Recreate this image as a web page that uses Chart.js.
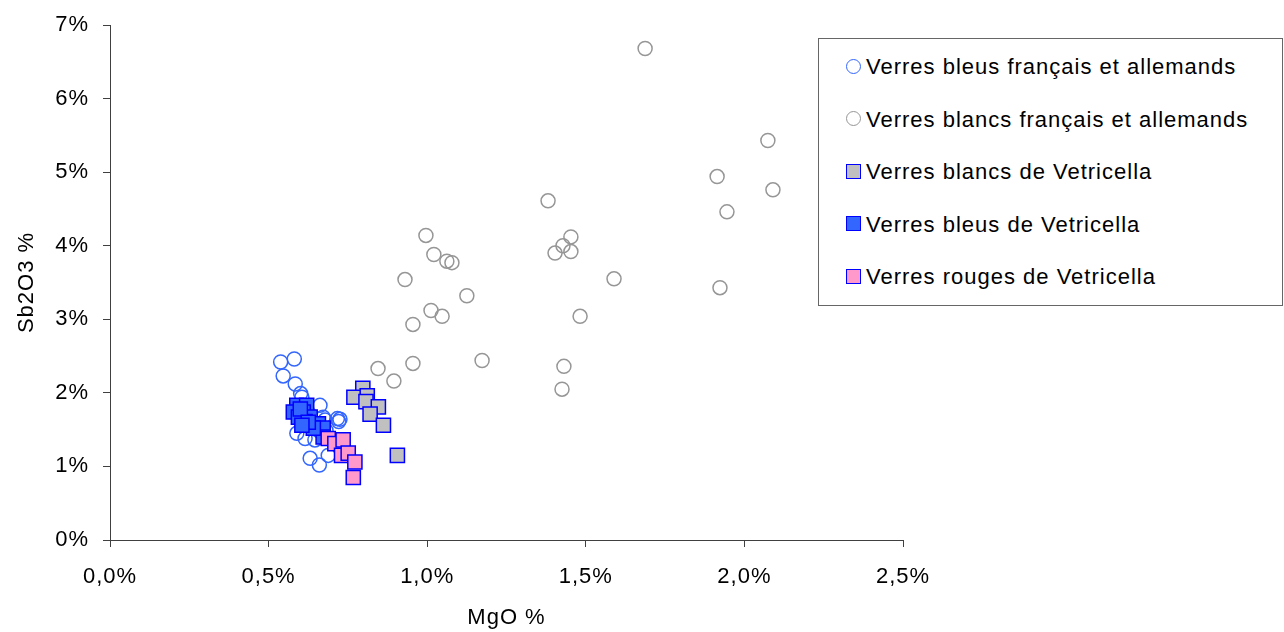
<!DOCTYPE html>
<html>
<head>
<meta charset="utf-8">
<script src="https://cdn.jsdelivr.net/npm/chart.js@4/dist/chart.umd.min.js"></script>
<style>
  html, body { margin: 0; padding: 0; background: #fff; }
  #wrap { position: relative; width: 1284px; height: 632px; }
  #legend {
    position: absolute; left: 818px; top: 38px; width: 465px; height: 268px;
    border: 1px solid #666; background: #fff; box-sizing: border-box;
    font-family: "Liberation Sans", Arial, sans-serif; font-size: 22px; letter-spacing: 1px; color: #000;
  }
  .item { position: absolute; left: 27px; height: 26px; line-height: 26px; white-space: nowrap; }
  .mk { display: inline-block; vertical-align: middle; margin-right: 5px; box-sizing: border-box; position: relative; top: -2px; }
</style>
</head>
<body>
<div id="wrap">
  <canvas id="chart" width="1284" height="632"></canvas>
  <div id="legend"></div>
</div>
<script>
// MgO % (x) / Sb2O3 % (y)
const bleusFrX = [0.538, 0.581, 0.546, 0.584, 0.601, 0.605, 0.662, 0.717, 0.725, 0.721, 0.589, 0.615, 0.631, 0.660, 0.688, 0.672, 0.637, 0.656, 0.615, 0.678, 0.646, 0.681];
const bleusFrY = [2.42, 2.46, 2.23, 2.12, 1.99, 1.94, 1.83, 1.65, 1.64, 1.61, 1.45, 1.38, 1.11, 1.02, 1.15, 1.67, 1.56, 1.49, 1.76, 1.63, 1.36, 1.49];

const blancsFrX = [1.687, 2.074, 1.914, 2.090, 1.945, 1.381, 0.996, 1.453, 1.428, 1.021, 1.062, 1.078, 1.403, 1.453, 0.930, 1.589, 1.125, 1.923, 1.012, 1.047, 0.955, 1.482, 1.173, 0.955, 0.845, 0.895, 1.431, 1.425];
const blancsFrY = [6.68, 5.43, 4.94, 4.76, 4.46, 4.61, 4.14, 4.12, 4.00, 3.88, 3.79, 3.77, 3.90, 3.92, 3.54, 3.55, 3.32, 3.43, 3.12, 3.04, 2.93, 3.04, 2.44, 2.40, 2.33, 2.16, 2.36, 2.05];

const blancsVetX = [0.797, 0.769, 0.811, 0.807, 0.846, 0.820, 0.862, 0.906];
const blancsVetY = [2.06, 1.94, 1.96, 1.88, 1.81, 1.71, 1.56, 1.15];

const bleusVetX = [0.589, 0.620, 0.578, 0.609, 0.631, 0.615, 0.657, 0.672, 0.672, 0.641, 0.594, 0.600, 0.625, 0.605];
const bleusVetY = [1.83, 1.83, 1.74, 1.74, 1.67, 1.61, 1.58, 1.52, 1.40, 1.52, 1.67, 1.78, 1.60, 1.56];

const rougesVetX = [0.688, 0.709, 0.735, 0.730, 0.751, 0.772, 0.767];
const rougesVetY = [1.38, 1.31, 1.36, 1.15, 1.18, 1.06, 0.85];

const xTicks = [0, 0.5, 1, 1.5, 2, 2.5];
const yTicks = [0, 1, 2, 3, 4, 5, 6, 7];

const toPoints = (xs, ys) => xs.map((x, i) => ({ x: x, y: ys[i] }));

const datasets = [
    { label: 'Verres bleus français et allemands', data: toPoints(bleusFrX, bleusFrY), pointStyle: 'circle', pointRadius: 7, borderColor: '#3366ff', backgroundColor: 'rgba(255,255,255,0)', borderWidth: 1.5, order: 5 },
    { label: 'Verres blancs français et allemands', data: toPoints(blancsFrX, blancsFrY), pointStyle: 'circle', pointRadius: 7, borderColor: '#969696', backgroundColor: 'rgba(255,255,255,0)', borderWidth: 1.5, order: 4 },
    { label: 'Verres blancs de Vetricella', data: toPoints(blancsVetX, blancsVetY), pointStyle: 'rect', pointRadius: 10, borderColor: '#0000ff', backgroundColor: '#c0c0c0', borderWidth: 1.5, order: 3 },
    { label: 'Verres bleus de Vetricella', data: toPoints(bleusVetX, bleusVetY), pointStyle: 'rect', pointRadius: 10, borderColor: '#0000ff', backgroundColor: '#3366ff', borderWidth: 1.5, order: 2 },
    { label: 'Verres rouges de Vetricella', data: toPoints(rougesVetX, rougesVetY), pointStyle: 'rect', pointRadius: 10, borderColor: '#0000ff', backgroundColor: '#ff99cc', borderWidth: 1.5, order: 1 }
];
datasets.forEach(d => { d.pointHoverRadius = d.pointRadius; d.pointBorderWidth = d.borderWidth; });

const font = { family: '"Liberation Sans", Arial, sans-serif', size: 22 };
const axisColor = '#404040';

// text in the original is a bit wider than plain Arial, add some letter spacing
const spacing = {
    id: 'spacing',
    beforeLayout: (chart) => { chart.ctx.letterSpacing = '1px'; },
    beforeDraw: (chart) => { chart.ctx.letterSpacing = '1px'; }
};

new Chart(document.getElementById('chart'), {
    type: 'scatter',
    data: { datasets: datasets },
    plugins: [spacing],
    options: {
        responsive: false,
        animation: false,
        layout: { padding: { top: 24, right: 381, left: 0, bottom: 0 } },
        plugins: { legend: { display: false }, tooltip: { enabled: false } },
        scales: {
            x: {
                type: 'linear', min: 0, max: 2.5,
                afterBuildTicks: (s) => { s.ticks = xTicks.map(v => ({ value: v })); },
                afterFit: (s) => { s.height = 92; },
                grid: { display: true, drawOnChartArea: false, drawTicks: true, tickLength: 7, color: axisColor },
                border: { color: axisColor, width: 1 },
                ticks: { color: '#000', font: font, padding: 17, maxRotation: 0, callback: (v) => v.toFixed(1).replace('.', ',') + '%' },
                title: { display: true, text: 'MgO %', color: '#000', font: font, padding: { top: 0, bottom: 1 } }
            },
            y: {
                type: 'linear', min: 0, max: 7,
                afterBuildTicks: (s) => { s.ticks = yTicks.map(v => ({ value: v })); },
                afterFit: (s) => { s.width = 110; },
                grid: { display: true, drawOnChartArea: false, drawTicks: true, tickLength: 7, color: axisColor },
                border: { color: axisColor, width: 1 },
                ticks: { color: '#000', font: Object.assign({}, font, { lineHeight: 1 }), padding: 14, callback: (v) => v + '%' },
                title: { display: true, text: 'Sb2O3 %', color: '#000', font: font, padding: { top: 14, bottom: 0 } }
            }
        }
    }
});

// legend drawn as HTML box overlapping the plot, like the original
const legendEl = document.getElementById('legend');
datasets.forEach((d, i) => {
    const item = document.createElement('div');
    item.className = 'item';
    item.style.top = (15 + i * 52.5) + 'px';
    const mk = document.createElement('span');
    mk.className = 'mk';
    mk.style.width = '15px';
    mk.style.height = '15px';
    mk.style.border = '1.5px solid ' + d.borderColor;
    if (d.pointStyle === 'circle') mk.style.borderRadius = '50%';
    else mk.style.background = d.backgroundColor;
    item.appendChild(mk);
    item.appendChild(document.createTextNode(d.label));
    legendEl.appendChild(item);
});
</script>
</body>
</html>
